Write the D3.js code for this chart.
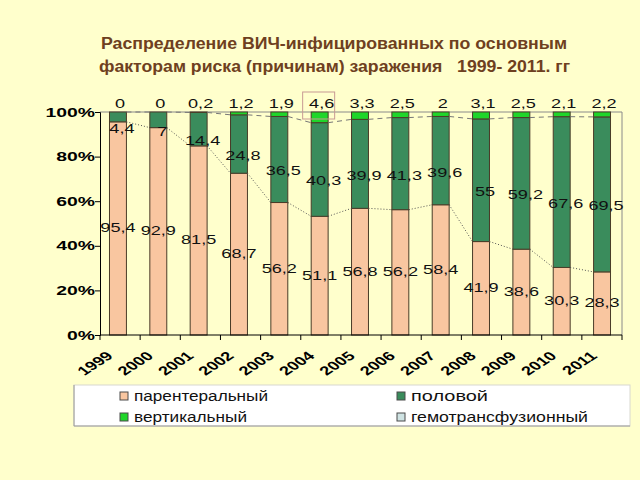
<!DOCTYPE html>
<html><head><meta charset="utf-8">
<script src="https://cdn.jsdelivr.net/npm/d3@7"></script>
<style>html,body{margin:0;padding:0;background:#FFFFCC;}svg{display:block;font-family:"Liberation Sans",Arial,sans-serif;}</style>
</head><body>
<svg id="chart" width="640" height="480"></svg>
<script>
const years = ["1999","2000","2001","2002","2003","2004","2005","2006","2007","2008","2009","2010","2011"];
const parenteral = [95.4,92.9,81.5,68.7,56.2,51.1,56.8,56.2,58.4,41.9,38.6,30.3,28.3];
const sexual = [4.4,7,14.4,24.8,36.5,40.3,39.9,41.3,39.6,55,59.2,67.6,69.5];
const vertical = [0,0,0.2,1.2,1.9,4.6,3.3,2.5,2,3.1,2.5,2.1,2.2];
const transfusion = [0,0,0,0,0,0,0,0,0,0,0,0,0];
const yTicks = [0,0.2,0.4,0.6,0.8,1];
const seriesNames = ["парентеральный","половой","вертикальный","гемотрансфузионный"];
const titleLines = ["Распределение ВИЧ-инфицированных по основным","факторам риска (причинам) заражения   1999- 2011. гг"];

const keys = ["p","s","v","t"];
const colors = {p:"#F9C6A0", s:"#3A8C5C", v:"#1FD62A", t:"#CFE3E3"};
const table = years.map((y,i)=>({year:y, p:parenteral[i], s:sexual[i], v:vertical[i], t:transfusion[i]}));
const stack = d3.stack().keys(keys).offset(d3.stackOffsetExpand)(table);

const svg = d3.select("#chart");
svg.append("rect").attr("width",640).attr("height",480).attr("fill","#FFFFCC");

const L=100,R=622,T=112,B=335;
const x = d3.scaleBand().domain(years).range([L,R]).paddingInner(0.58).paddingOuter(0.26);
const y = d3.scaleLinear().domain([0,1]).range([B,T]);
const fmt = v => String(v).replace(".",",");

function stext(g, xx, yy, str, opts){
  return g.append("text").attr("transform",`translate(${xx},${yy}) scale(${opts.sx||1.45},1)${opts.rot?` rotate(${opts.rot})`:""}`)
    .attr("text-anchor",opts.anchor||"middle").attr("font-size",opts.size||12)
    .attr("font-weight",opts.weight||"normal").attr("fill",opts.fill||"#111").text(str);
}

// title
svg.append("text").attr("x",101).attr("y",49).attr("font-size",16).attr("font-weight","bold").attr("fill","#6E4020")
  .attr("textLength",466).attr("lengthAdjust","spacingAndGlyphs").text(titleLines[0]);
svg.append("text").attr("x",99).attr("y",72).attr("font-size",16).attr("font-weight","bold").attr("fill","#6E4020")
  .attr("textLength",471).attr("lengthAdjust","spacingAndGlyphs").style("white-space","pre").text(titleLines[1]);

// plot border top/right
svg.append("path").attr("d",`M${L},${T}H${R}V${B}`).attr("fill","none").attr("stroke","#8a8a8a").attr("stroke-width",1);

// bars
const bx = d => x(d.data.year) - 1;
svg.append("g").selectAll("g").data(stack).join("g").attr("fill",d=>colors[d.key])
  .selectAll("rect").data(d=>d.filter(s=>s[1]-s[0]>0)).join("rect")
  .attr("x",bx).attr("width",x.bandwidth())
  .attr("y",d=>y(d[1])).attr("height",d=>y(d[0])-y(d[1]))
  .attr("stroke","#4a3c28").attr("stroke-width",1);

// series lines
const pTop = stack[0], sTop = stack[1];
const lines = svg.append("g").attr("fill","none");
for(let i=0;i<years.length-1;i++){
  lines.append("line").attr("x1",bx(pTop[i])+x.bandwidth()).attr("x2",bx(pTop[i+1]))
    .attr("y1",y(pTop[i][1])).attr("y2",y(pTop[i+1][1])).attr("stroke","#555").attr("stroke-dasharray","1,2");
  lines.append("line").attr("x1",bx(sTop[i])+x.bandwidth()).attr("x2",bx(sTop[i+1]))
    .attr("y1",y(sTop[i][1])).attr("y2",y(sTop[i+1][1])).attr("stroke","#777").attr("stroke-dasharray","5,4");
}

// axes
const ya = svg.append("g").attr("transform",`translate(${L},0)`).call(d3.axisLeft(y).tickValues(yTicks).tickSize(5).tickFormat(d=>""));
ya.select(".domain").attr("stroke","#000");
ya.selectAll(".tick line").attr("stroke","#000");
const xa = svg.append("g").attr("transform",`translate(0,${B})`).call(d3.axisBottom(x).tickSize(0).tickFormat(""));
xa.select(".domain").attr("stroke","#000").attr("d",`M${L},0H${R}`);
xa.selectAll(".tick").remove();
const ticks = svg.append("g");
years.forEach((d,i)=>{ const ex = L + (R-L)/years.length*i;
  ticks.append("line").attr("x1",ex).attr("x2",ex).attr("y1",B).attr("y2",B+5).attr("stroke","#000"); });
ticks.append("line").attr("x1",R).attr("x2",R).attr("y1",B).attr("y2",B+5).attr("stroke","#000");

const yl = svg.append("g");
yTicks.forEach(t=> stext(yl, 95, y(t)+4.5, Math.round(t*100)+"%", {anchor:"end", weight:"bold", size:12.5, sx:1.55, fill:"#000"}));

const xl = svg.append("g");
years.forEach(d=> stext(xl, x(d)+x.bandwidth()/2-5, B+22, d, {anchor:"end", weight:"bold", size:12.5, sx:1.45, rot:-43, fill:"#000"}));

// labels
const lab = svg.append("g");
pTop.forEach((s,i)=> stext(lab, bx(s)+x.bandwidth()/2, y((s[0]+s[1])/2)+4, fmt(parenteral[i]), {size:12.5}));
sTop.forEach((s,i)=> stext(lab, bx(s)+x.bandwidth()/2+4, y((s[0]+s[1])/2)+16, fmt(sexual[i]), {size:12.5}));
stack[2].forEach((s,i)=> stext(lab, bx(s)+x.bandwidth()/2+2, T-4, fmt(vertical[i]), {size:12.5}));

// highlight box around 2004 vertical label
const hi = years.indexOf("2004");
svg.append("rect").attr("x",bx(stack[2][hi])+x.bandwidth()/2-17).attr("y",T-20).attr("width",32).attr("height",27)
  .attr("fill","none").attr("stroke","#C89A94").attr("stroke-width",1);

// legend
const lg = svg.append("g");
lg.append("rect").attr("x",74).attr("y",385).attr("width",556).attr("height",41).attr("fill","#FFFFFF").attr("stroke","#d8d8d0");
lg.append("path").attr("d","M74,385V426H630").attr("fill","none").attr("stroke","#9a9a9a");
const lpos = [[120,396,268],[397,396,488],[120,417,247],[397,417,588]];
[0,1,2,3].forEach((k,j)=>{
  const [lx,ly,le] = lpos[j];
  lg.append("rect").attr("x",lx).attr("y",ly-4).attr("width",8).attr("height",8).attr("fill",colors[keys[k]]).attr("stroke","#4a4a4a");
  lg.append("text").attr("x",lx+14).attr("y",ly+5).attr("font-size",14).attr("fill","#111")
    .attr("textLength",le-(lx+14)).attr("lengthAdjust","spacingAndGlyphs").text(seriesNames[k]);
});
</script>
</body></html>
